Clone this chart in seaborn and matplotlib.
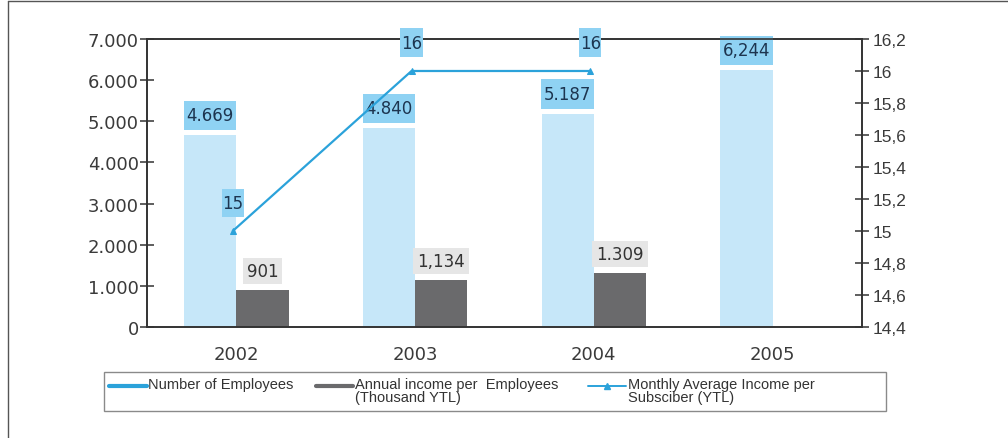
import matplotlib
matplotlib.use("Agg")
import matplotlib.pyplot as plt
from matplotlib.legend_handler import HandlerLine2D
from matplotlib.lines import Line2D
from matplotlib.patches import Rectangle
from matplotlib.path import Path
from matplotlib.ticker import FixedLocator, FuncFormatter
import numpy as np
import pandas as pd
import seaborn as sns

# ---- data ----
years = ["2002", "2003", "2004", "2005"]
employees = [4669, 4840, 5187, 6244]
employee_labels = ["4.669", "4.840", "5.187", "6,244"]
income_per_employee = [901, 1134, 1309, np.nan]
income_labels = ["901", "1,134", "1.309", ""]
monthly_income = [15, 16, 16]
monthly_labels = ["15", "16", "16"]

series_emp = "Number of Employees"
series_inc = "Annual income per  Employees"
series_inc_unit = "(Thousand YTL)"
series_mon = "Monthly Average Income per"
series_mon_unit = "Subsciber (YTL)"

LIGHT = "#c6e7f9"
DARK = "#6a6a6c"
LINE = "#2ba2da"
BOX_BLUE = "#8fd2f3"
BOX_GREY = "#e6e6e6"
AXC = "#333333"


def label_box(px, py):
    """Rectangular text box with separate horizontal / vertical padding."""
    def style(x0, y0, width, height, mutation_size):
        dx, dy = px * mutation_size, py * mutation_size
        xa, ya = x0 - dx, y0 - dy
        xb, yb = x0 + width + dx, y0 + height + dy
        return Path([(xa, ya), (xb, ya), (xb, yb), (xa, yb), (xa, ya)],
                    closed=True)
    return style


class RaisedLineHandler(HandlerLine2D):
    """Legend line handle lifted to sit level with the first label line."""
    def __init__(self, lift=3.0, **kw):
        super().__init__(**kw)
        self.lift = lift

    def create_artists(self, legend, orig_handle, xdescent, ydescent,
                       width, height, fontsize, trans):
        arts = super().create_artists(legend, orig_handle, xdescent, ydescent,
                                      width, height, fontsize, trans)
        for a in arts:
            a.set_ydata(np.asarray(a.get_ydata(), dtype=float) + self.lift)
        return arts


sns.set_theme(style="white")
plt.rcParams["font.family"] = ["DejaVu Sans"]

df = pd.DataFrame({
    "year": years * 2,
    "value": employees + income_per_employee,
    "series": [series_emp] * 4 + [series_inc] * 4,
})

fig = plt.figure(figsize=(10.08, 4.39), dpi=100)
ax = fig.add_axes([0.1458, 0.2528, 0.7093, 0.6561])

sns.barplot(data=df, x="year", y="value", hue="series", order=years,
            hue_order=[series_emp, series_inc],
            palette=[LIGHT, DARK], width=0.585, gap=0, saturation=1,
            linewidth=0, edgecolor="none", legend=False, ax=ax)

ax.set_ylim(0, 7000)
ax.set_xlim(-0.5, 3.5)
ax.set_xlabel("")
ax.set_ylabel("")
ax.yaxis.set_major_locator(FixedLocator(np.arange(0, 7001, 1000)))
ax.yaxis.set_major_formatter(FuncFormatter(lambda v, p: f"{int(v):,}".replace(",", ".")))
ax.tick_params(axis="y", direction="inout", length=10, width=1.1, color=AXC,
               labelsize=13, labelcolor="#3a3a3a", pad=1)
ax.tick_params(axis="x", which="major", length=0, labelsize=13,
               labelcolor="#3a3a3a", pad=13)
ax.set_xticks([0.5, 1.5, 2.5], minor=True)
ax.tick_params(axis="x", which="minor", direction="inout", length=12,
               width=1.1, color=AXC)
for s in ax.spines.values():
    s.set_color(AXC)
    s.set_linewidth(1.2)

# value labels on the bars
bars_emp = ax.containers[0]
bars_inc = ax.containers[1]
for rect, val, lab in zip(bars_emp, employees, employee_labels):
    cx = rect.get_x() + rect.get_width() / 2
    ax.annotate(lab, (cx, val), xytext=(0, 7.7), textcoords="offset points",
                ha="center", va="bottom", fontsize=12, color="#1d3550",
                bbox=dict(boxstyle=label_box(0.16, 0.34), fc=BOX_BLUE, ec="none"),
                zorder=5)
for rect, val, lab in zip(bars_inc, income_per_employee, income_labels):
    if np.isnan(val):
        continue
    cx = rect.get_x() + rect.get_width() / 2
    ax.annotate(lab, (cx, val), xytext=(0, 7.3), textcoords="offset points",
                ha="center", va="bottom", fontsize=12, color="#333333",
                bbox=dict(boxstyle=label_box(0.24, 0.25), fc=BOX_GREY, ec="none"),
                zorder=5)

# secondary axis: monthly income line
ax2 = ax.twinx()
line_df = pd.DataFrame({"pos": np.arange(len(monthly_income)) - 0.02,
                        "value": monthly_income})
sns.lineplot(data=line_df, x="pos", y="value", color=LINE, linewidth=1.6,
             marker="^", markersize=5, markeredgecolor=LINE, ax=ax2)
ax2.set_ylim(14.4, 16.2)
ax2.set_xlim(-0.5, 3.5)
ax2.set_ylabel("")
ax2.set_xlabel("")
ax2.yaxis.set_major_locator(FixedLocator(np.arange(14.4, 16.21, 0.2)))
ax2.yaxis.set_major_formatter(
    FuncFormatter(lambda v, p: f"{v:.1f}".rstrip("0").rstrip(".").replace(".", ",")))
ax2.tick_params(axis="y", direction="inout", length=10, width=1.1, color=AXC,
                labelsize=12.5, labelcolor="#3a3a3a", pad=3)
for lbl in ax2.get_yticklabels():
    lbl.set_family("Liberation Sans")
for s in ax2.spines.values():
    s.set_color(AXC)
    s.set_linewidth(1.2)

for x, val, lab in zip(line_df["pos"], monthly_income, monthly_labels):
    ax2.annotate(lab, (x, val), xytext=(0, 13.8), textcoords="offset points",
                 ha="center", va="bottom", fontsize=12, color="#1d3550",
                 bbox=dict(boxstyle=label_box(0.04, 0.32), fc=BOX_BLUE, ec="none"),
                 zorder=6, annotation_clip=False)

# legend with a separate frame
handles = [
    Line2D([], [], color=LINE, linewidth=3),
    Line2D([], [], color=DARK, linewidth=3),
    Line2D([], [], color=LINE, linewidth=1.4, marker="^", markersize=5),
]
labels = [series_emp + "\n ",
          series_inc + "  \n" + series_inc_unit,
          series_mon + "\n" + series_mon_unit]
leg = fig.legend(handles, labels,
                 loc="upper left", ncol=3,
                 bbox_to_anchor=(106 / 1008, 1 - 375 / 439),
                 borderaxespad=0, borderpad=0.2, frameon=False,
                 handlelength=2.6, handletextpad=0.1, columnspacing=1.5,
                 handler_map={Line2D: RaisedLineHandler(lift=3.2)},
                 prop={"family": "Liberation Sans", "size": 10.5})
for t in leg.get_texts():
    t.set_color("#333333")
    t.set_linespacing(0.9)
fig.add_artist(Rectangle((104 / 1008, 1 - 412 / 439), 782 / 1008, 39 / 439,
                         transform=fig.transFigure, fill=False,
                         edgecolor="#8a8a8a", linewidth=1.0))

# outer frame lines
fig.add_artist(Line2D([0.0075, 0.0075], [0.0, 0.995], transform=fig.transFigure,
                      color="#555555", linewidth=1.0))
fig.add_artist(Line2D([0.0075, 1.0], [0.995, 0.995], transform=fig.transFigure,
                      color="#555555", linewidth=1.0))

fig.savefig("out.png", dpi=100, facecolor="white")
